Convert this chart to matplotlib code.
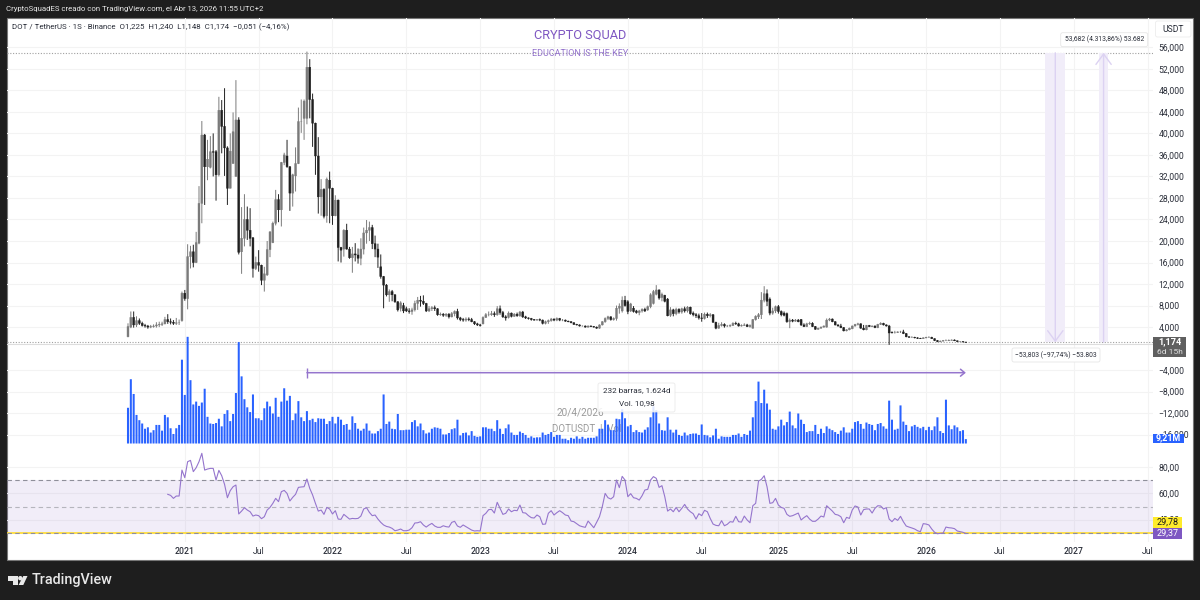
import matplotlib
matplotlib.use("Agg")
import matplotlib.dates as mdates
import matplotlib.pyplot as plt
import pandas as pd
from matplotlib.patches import Circle, FancyBboxPatch, Polygon, Rectangle

plt.rcParams["font.family"] = ["Roboto", "DejaVu Sans"]

# weekly candles, DOTUSDT
opens = [
    2.2, 4.0, 5.8, 4.4, 5.2, 4.7, 4.3, 4.2, 4.0, 4.1,
    4.2, 4.4, 4.5, 4.6, 5.4, 5.0, 4.9, 4.7, 4.8, 5.2,
    10.3, 9.3, 17.1, 18.0, 16.0, 19.6, 27.0, 39.7, 33.8, 33.7,
    36.6, 36.6, 32.3, 44.3, 41.3, 37.3, 29.8, 34.4, 32.0, 42.5,
    18.0, 20.5, 24.0, 22.0, 20.6, 14.9, 16.0, 15.5, 12.7, 13.7,
    18.4, 19.7, 23.3, 27.7, 25.8, 34.6, 35.8, 33.8, 28.9, 32.1,
    34.4, 42.2, 42.8, 42.8, 52.3, 46.3, 41.9, 35.8, 28.2, 29.6,
    24.7, 31.3, 29.8, 24.7, 27.6, 18.8, 18.5, 22.0, 18.5, 16.9,
    17.6, 17.4, 16.8, 18.5, 21.5, 22.0, 22.5, 19.5, 18.5, 15.2,
    13.4, 11.8, 10.0, 10.6, 10.0, 8.7, 7.5, 8.0, 7.4, 7.0,
    6.9, 7.2, 8.4, 9.0, 8.8, 8.4, 7.0, 7.4, 7.6, 7.4,
    6.3, 6.4, 6.2, 6.4, 5.9, 6.5, 6.9, 5.7, 5.4, 5.3,
    5.5, 5.4, 5.0, 4.6, 4.4, 4.6, 5.8, 6.3, 6.3, 6.5,
    6.3, 7.4, 6.7, 5.9, 5.8, 6.6, 6.0, 6.4, 6.1, 6.8,
    5.9, 5.7, 5.6, 5.4, 5.3, 5.4, 5.3, 4.7, 5.0, 5.2,
    5.5, 5.3, 5.6, 5.3, 5.3, 5.1, 5.0, 4.8, 4.5, 4.4,
    4.2, 4.2, 4.0, 4.2, 4.1, 4.0, 3.8, 4.4, 5.0, 5.6,
    5.9, 5.4, 5.6, 7.5, 7.0, 9.0, 8.7, 7.0, 7.5, 7.0,
    6.7, 7.0, 7.3, 7.2, 7.8, 8.4, 10.1, 10.9, 9.5, 9.9,
    9.2, 6.2, 7.2, 6.5, 7.3, 6.8, 7.4, 7.0, 7.7, 6.6,
    6.3, 6.1, 5.7, 5.6, 6.4, 6.1, 6.3, 4.9, 3.8, 4.3,
    4.5, 4.2, 4.2, 4.3, 4.7, 4.6, 4.2, 4.3, 4.4, 4.1,
    3.8, 5.4, 5.9, 6.3, 9.0, 10.2, 9.2, 6.6, 7.0, 7.8,
    6.9, 6.6, 6.5, 5.0, 5.3, 5.1, 5.3, 5.4, 4.4, 4.1,
    4.6, 4.7, 4.1, 3.6, 3.8, 4.0, 4.0, 5.3, 5.5, 5.0,
    4.4, 4.2, 3.9, 3.3, 3.5, 3.7, 4.2, 4.5, 4.6, 3.8,
    3.5, 4.3, 4.1, 4.2, 3.9, 4.5, 4.7, 4.4, 4.2, 3.0,
    3.0, 3.0, 3.1, 3.1, 2.8, 2.2, 2.1, 2.1, 2.0, 1.9,
    1.85, 2.0, 2.1, 2.1, 1.85, 1.5, 1.3, 1.4, 1.5, 1.5,
    1.55, 1.6, 1.45, 1.3, 1.3, 1.225,
]
highs = [
    4.7, 6.9, 6.9, 6.0, 5.6, 5.0, 4.6, 4.4, 4.4, 4.5,
    4.9, 5.0, 5.0, 5.9, 6.4, 5.6, 5.3, 5.7, 5.4, 10.6,
    10.9, 19.4, 19.1, 19.3, 21.7, 30.2, 42.3, 39.9, 38.8, 39.5,
    40.0, 36.9, 46.8, 46.2, 48.4, 37.6, 40.0, 43.9, 49.9, 43.0,
    26.3, 28.7, 26.4, 26.1, 20.7, 17.1, 18.3, 15.6, 15.2, 20.0,
    21.8, 23.6, 29.5, 28.7, 34.7, 36.4, 38.8, 33.9, 32.5, 37.4,
    44.8, 46.3, 46.3, 55.2, 53.8, 47.4, 42.0, 39.3, 31.5, 29.8,
    31.8, 32.9, 29.9, 28.5, 27.7, 18.9, 22.2, 23.2, 18.9, 18.9,
    19.6, 18.6, 20.5, 22.5, 23.9, 23.6, 23.0, 21.0, 19.5, 17.5,
    13.5, 12.0, 11.0, 10.9, 10.1, 8.8, 8.8, 8.5, 7.8, 7.5,
    7.6, 8.9, 9.6, 9.8, 9.9, 8.5, 7.9, 7.9, 8.0, 7.5,
    6.7, 6.6, 6.6, 6.6, 6.8, 7.1, 7.4, 5.9, 5.7, 5.8,
    5.8, 5.7, 5.1, 4.8, 4.6, 6.0, 6.6, 6.9, 7.0, 6.9,
    7.9, 8.0, 7.0, 6.2, 6.9, 6.7, 6.6, 6.7, 7.0, 7.0,
    6.1, 5.8, 5.7, 5.5, 5.5, 5.6, 5.4, 5.2, 5.4, 5.7,
    5.6, 5.8, 5.7, 5.5, 5.4, 5.2, 5.1, 4.9, 4.6, 4.5,
    4.3, 4.3, 4.3, 4.3, 4.2, 4.1, 4.5, 5.1, 5.8, 6.1,
    6.0, 5.8, 8.0, 8.4, 9.7, 9.8, 9.0, 8.5, 7.9, 7.2,
    7.2, 7.5, 7.6, 8.0, 10.3, 10.9, 11.8, 11.0, 10.4, 10.0,
    9.4, 7.7, 7.4, 7.6, 7.5, 7.6, 7.8, 7.9, 7.8, 6.9,
    6.6, 6.5, 6.6, 6.7, 6.7, 6.6, 6.4, 5.0, 4.8, 4.9,
    4.7, 4.4, 4.5, 4.9, 5.0, 4.8, 4.5, 4.7, 4.6, 4.5,
    5.5, 6.2, 6.6, 10.5, 11.6, 11.0, 9.5, 7.6, 8.0, 8.1,
    7.1, 6.9, 6.7, 5.6, 5.5, 5.5, 5.5, 5.5, 4.7, 4.8,
    5.0, 4.9, 4.2, 3.9, 4.1, 4.3, 5.6, 5.7, 5.6, 5.1,
    4.5, 4.6, 4.0, 3.6, 3.9, 4.3, 4.6, 4.8, 4.7, 4.4,
    4.4, 4.4, 4.3, 4.3, 4.6, 4.9, 4.8, 4.5, 4.4, 3.2,
    3.3, 3.2, 3.3, 3.5, 2.9, 2.3, 2.3, 2.2, 2.1, 2.0,
    2.1, 2.2, 2.3, 2.2, 1.9, 1.6, 1.5, 1.6, 1.7, 1.7,
    1.7, 1.7, 1.5, 1.4, 1.35, 1.24,
]
lows = [
    2.1, 3.8, 3.9, 4.0, 4.4, 4.1, 3.9, 3.7, 3.8, 3.9,
    3.9, 4.0, 4.2, 4.5, 4.6, 4.5, 4.4, 4.4, 4.4, 5.0,
    8.9, 7.3, 14.9, 15.1, 15.9, 19.4, 23.3, 26.7, 31.3, 33.5,
    32.0, 27.5, 32.0, 36.3, 32.1, 26.7, 29.8, 34.4, 32.0, 17.5,
    13.9, 19.0, 20.2, 19.0, 13.2, 14.6, 14.3, 11.8, 10.6, 13.5,
    17.0, 19.6, 22.9, 23.5, 22.7, 34.1, 33.6, 25.6, 26.4, 29.2,
    34.3, 40.1, 38.8, 41.7, 42.8, 37.5, 32.3, 25.1, 24.7, 24.2,
    23.4, 23.3, 23.0, 24.6, 16.2, 16.0, 17.1, 18.4, 16.7, 14.1,
    16.2, 15.8, 15.5, 17.5, 19.5, 20.0, 18.5, 17.0, 15.0, 13.0,
    7.5, 9.7, 8.7, 8.8, 8.5, 6.9, 6.9, 6.6, 6.8, 6.5,
    6.3, 6.9, 7.2, 7.8, 8.1, 6.8, 6.8, 7.0, 7.0, 6.1,
    6.1, 5.9, 5.9, 5.6, 5.8, 6.0, 5.4, 5.1, 5.0, 5.0,
    5.1, 4.9, 4.4, 4.2, 4.1, 4.5, 5.7, 6.0, 6.1, 5.9,
    6.1, 6.3, 5.7, 5.2, 5.6, 5.8, 5.9, 5.9, 5.9, 5.7,
    5.5, 5.4, 5.2, 5.2, 5.2, 5.1, 4.5, 4.5, 4.6, 5.0,
    5.1, 5.1, 5.1, 5.1, 5.0, 4.9, 4.7, 4.4, 4.3, 4.1,
    4.1, 3.9, 3.9, 4.0, 3.9, 3.7, 3.7, 4.3, 4.8, 5.3,
    5.2, 5.2, 5.2, 6.5, 6.7, 7.8, 6.4, 6.8, 6.7, 6.5,
    6.2, 6.7, 6.8, 7.0, 7.5, 8.2, 9.9, 9.1, 8.8, 8.6,
    6.0, 5.9, 6.0, 6.2, 6.5, 6.5, 6.7, 6.7, 6.3, 6.0,
    5.7, 5.4, 5.0, 5.4, 5.7, 5.8, 4.8, 3.6, 3.7, 4.1,
    3.9, 4.0, 4.0, 4.2, 4.4, 4.1, 4.1, 4.2, 4.0, 3.9,
    3.7, 5.2, 5.5, 5.5, 8.6, 7.9, 6.2, 6.3, 6.6, 6.5,
    6.0, 6.0, 4.8, 3.8, 4.9, 5.0, 4.9, 4.2, 4.0, 4.0,
    4.4, 4.0, 3.5, 3.5, 3.7, 3.9, 3.9, 5.1, 4.9, 4.3,
    4.1, 3.8, 3.2, 3.2, 3.4, 3.6, 4.1, 4.3, 3.7, 3.4,
    3.4, 4.0, 4.0, 3.8, 3.8, 4.4, 4.3, 4.1, 0.7, 2.8,
    2.8, 2.9, 2.9, 2.7, 2.1, 2.0, 2.0, 1.9, 1.8, 1.8,
    1.8, 1.9, 2.0, 1.8, 1.4, 1.2, 1.2, 1.3, 1.4, 1.4,
    1.5, 1.4, 1.2, 1.2, 1.2, 1.148,
]
closes = [
    4.1, 5.8, 4.4, 5.2, 4.7, 4.3, 4.2, 4.0, 4.1, 4.2,
    4.4, 4.5, 4.6, 5.4, 5.0, 4.9, 4.7, 4.8, 4.8, 10.3,
    9.3, 17.1, 18.0, 16.0, 19.7, 27.0, 39.7, 33.8, 35.2, 36.6,
    36.5, 32.3, 44.3, 41.3, 37.3, 29.8, 36.7, 40.3, 42.5, 17.9,
    20.5, 24.0, 22.0, 20.5, 14.9, 16.0, 15.5, 12.7, 13.9, 18.4,
    21.7, 23.3, 27.7, 25.8, 34.6, 36.0, 33.8, 28.9, 32.3, 34.4,
    42.2, 42.2, 46.0, 52.3, 46.3, 41.9, 35.8, 28.2, 29.6, 24.6,
    31.5, 29.8, 24.7, 27.6, 18.8, 18.3, 22.0, 18.5, 16.9, 17.6,
    17.4, 16.8, 18.5, 21.5, 22.0, 22.5, 19.5, 18.5, 17.0, 13.4,
    11.8, 10.0, 10.6, 10.0, 8.7, 7.2, 8.5, 7.0, 7.0, 6.9,
    7.2, 8.4, 9.0, 8.8, 8.4, 7.0, 7.4, 7.6, 7.4, 6.3,
    6.4, 6.2, 6.4, 5.9, 6.5, 6.9, 5.7, 5.4, 5.3, 5.5,
    5.4, 5.0, 4.6, 4.4, 4.3, 5.8, 6.3, 6.3, 6.5, 6.3,
    7.4, 6.7, 5.9, 5.7, 6.6, 6.0, 6.4, 6.1, 6.8, 5.9,
    5.7, 5.6, 5.4, 5.3, 5.4, 5.3, 4.7, 5.0, 5.2, 5.5,
    5.3, 5.6, 5.3, 5.3, 5.1, 5.0, 4.8, 4.5, 4.4, 4.2,
    4.2, 4.0, 4.2, 4.1, 4.0, 3.8, 4.4, 5.0, 5.6, 5.9,
    5.4, 5.6, 7.5, 7.9, 9.0, 8.0, 6.9, 8.3, 6.9, 6.7,
    7.0, 7.3, 7.0, 7.8, 10.0, 10.6, 10.9, 9.4, 10.1, 8.8,
    6.1, 7.2, 6.5, 7.3, 6.8, 7.4, 7.0, 7.7, 6.5, 6.3,
    6.1, 5.7, 5.6, 6.4, 6.1, 6.3, 4.9, 3.8, 4.3, 4.5,
    4.2, 4.2, 4.3, 4.7, 4.6, 4.2, 4.3, 4.4, 4.1, 4.3,
    5.4, 6.0, 6.3, 9.0, 10.2, 8.8, 6.6, 7.0, 7.8, 6.9,
    6.3, 6.2, 5.0, 5.3, 5.1, 5.3, 5.0, 4.4, 4.1, 4.6,
    4.7, 4.1, 3.6, 3.8, 4.0, 4.2, 5.3, 5.5, 5.0, 4.4,
    4.2, 3.9, 3.3, 3.5, 3.8, 4.2, 4.5, 4.6, 3.8, 3.5,
    4.3, 4.1, 4.2, 3.9, 4.5, 4.7, 4.4, 4.2, 2.9, 2.95,
    3.0, 3.1, 3.1, 2.8, 2.2, 2.1, 2.1, 2.0, 1.9, 1.85,
    2.0, 2.1, 2.1, 1.85, 1.5, 1.3, 1.4, 1.5, 1.5, 1.55,
    1.6, 1.45, 1.3, 1.3, 1.22, 1.174,
]

# volume in millions
volumes = [
    75, 135, 104, 60, 49, 42, 31, 34, 23, 28,
    39, 39, 27, 60, 55, 32, 20, 32, 39, 176,
    102, 224, 133, 82, 88, 79, 86, 115, 56, 42,
    41, 43, 52, 36, 62, 70, 47, 62, 106, 213,
    141, 93, 76, 66, 103, 53, 53, 49, 74, 88,
    78, 63, 96, 56, 88, 116, 90, 100, 49, 63,
    89, 55, 47, 68, 49, 52, 45, 53, 52, 52,
    41, 47, 56, 42, 56, 50, 39, 41, 29, 57,
    43, 31, 27, 31, 42, 27, 21, 21, 26, 31,
    103, 41, 46, 31, 30, 62, 28, 28, 29, 29,
    45, 49, 36, 42, 28, 21, 23, 31, 34, 33,
    31, 19, 19, 22, 30, 32, 50, 17, 22, 23,
    17, 26, 16, 14, 15, 34, 34, 31, 31, 26,
    49, 31, 20, 32, 40, 23, 18, 18, 25, 22,
    18, 12, 15, 12, 13, 13, 23, 18, 20, 24,
    14, 18, 18, 10, 10, 7, 12, 10, 15, 10,
    14, 10, 12, 12, 12, 15, 31, 31, 49, 39,
    28, 28, 52, 51, 72, 53, 36, 39, 24, 28,
    24, 23, 29, 34, 55, 78, 70, 42, 28, 27,
    55, 29, 23, 29, 18, 16, 23, 17, 20, 21,
    21, 18, 40, 18, 17, 13, 17, 31, 10, 15,
    14, 14, 14, 18, 18, 21, 14, 20, 18, 27,
    55, 89, 130, 85, 113, 84, 71, 31, 29, 36,
    50, 38, 45, 67, 38, 32, 63, 50, 41, 24,
    26, 26, 39, 20, 31, 22, 36, 31, 28, 24,
    20, 27, 34, 23, 23, 31, 45, 47, 41, 31,
    44, 41, 39, 28, 41, 43, 36, 31, 90, 50,
    29, 31, 80, 46, 39, 26, 36, 39, 35, 32,
    35, 28, 35, 28, 36, 55, 26, 22, 92, 38,
    30, 38, 34, 26, 28, 9.21,
]

# RSI starts at bar 14
rsi_values = [
    59.3, 58.5, 56.2, 58.0, 58.0, 77.8, 72.0, 84.2, 85.2, 76.6,
    79.6, 84.2, 90.6, 77.8, 78.6, 79.1, 79.1, 70.2, 77.6, 73.5,
    66.9, 56.7, 62.1, 65.1, 66.4, 44.3, 46.5, 49.1, 47.3, 46.0,
    42.7, 43.5, 43.0, 40.7, 42.2, 47.3, 49.3, 52.4, 56.2, 53.7,
    61.3, 62.3, 60.0, 54.2, 57.0, 59.3, 64.6, 64.9, 65.1, 71.0,
    63.8, 58.8, 52.4, 46.5, 47.3, 44.0, 49.3, 48.1, 44.3, 46.8,
    40.4, 40.2, 44.0, 42.2, 40.4, 40.9, 40.7, 40.9, 42.7, 48.1,
    49.1, 45.5, 43.0, 43.5, 40.4, 37.9, 35.9, 34.8, 34.3, 33.3,
    31.5, 32.0, 32.8, 31.5, 31.5, 32.0, 33.8, 37.4, 37.6, 38.4,
    35.9, 34.3, 35.9, 37.1, 35.1, 34.1, 34.1, 35.3, 34.6, 34.3,
    37.9, 38.7, 35.1, 34.1, 35.9, 34.6, 33.3, 32.0, 31.3, 31.5,
    31.3, 43.0, 44.8, 47.6, 47.8, 45.0, 53.2, 48.6, 44.0, 44.8,
    48.1, 46.0, 47.1, 46.8, 51.1, 45.3, 45.0, 43.0, 41.5, 41.2,
    43.5, 42.2, 36.4, 36.6, 44.8, 46.8, 43.5, 45.3, 46.8, 45.3,
    43.5, 43.0, 38.9, 38.4, 36.9, 35.3, 34.6, 34.1, 38.9, 36.4,
    33.8, 37.9, 42.2, 49.9, 60.0, 56.7, 55.7, 57.5, 70.2, 64.4,
    73.0, 70.2, 57.5, 59.8, 56.7, 56.2, 54.9, 58.2, 62.6, 63.1,
    70.2, 72.8, 71.5, 64.6, 65.9, 57.5, 46.5, 48.1, 46.0, 49.3,
    46.0, 48.6, 51.6, 48.1, 46.0, 44.5, 40.4, 44.5, 43.0, 47.1,
    46.0, 40.9, 36.6, 35.6, 35.3, 39.2, 35.3, 36.4, 38.4, 38.1,
    42.5, 38.4, 38.1, 42.7, 39.7, 37.6, 50.6, 52.4, 69.4, 70.7,
    73.5, 65.1, 52.4, 52.9, 56.2, 51.1, 49.3, 48.6, 44.0, 42.5,
    43.0, 44.0, 45.0, 39.7, 41.5, 43.0, 40.4, 38.7, 38.7, 40.4,
    42.7, 42.0, 50.6, 48.6, 46.5, 44.0, 43.5, 42.2, 37.6, 41.7,
    40.9, 47.3, 50.4, 49.6, 43.5, 47.6, 48.1, 48.1, 45.0, 48.6,
    50.6, 50.4, 48.1, 49.1, 40.4, 38.4, 40.9, 39.4, 42.5, 38.4,
    35.1, 34.3, 33.6, 32.8, 31.5, 30.8, 36.9, 36.6, 35.9, 32.8,
    30.3, 29.2, 29.5, 29.7, 34.3, 33.8, 33.6, 33.1, 31.3, 30.8,
    30.3, 29.37,
]

time_ticks = ["2021-01-04", "2021-07-05", "2022-01-03", "2022-07-04", "2023-01-02",
              "2023-07-03", "2024-01-01", "2024-07-01", "2025-01-06", "2025-07-07",
              "2026-01-05", "2026-07-06", "2027-01-04", "2027-07-05"]
time_labels = ["2021", "Jul", "2022", "Jul", "2023", "Jul", "2024", "Jul", "2025", "Jul",
               "2026", "Jul", "2027", "Jul"]
price_ticks = [56, 52, 48, 44, 40, 36, 32, 28, 24, 20, 16, 12, 8, 4, -4, -8, -12, -16]
rsi_ticks = [80, 60, 40]
range_high = 54.98
last_close = 1.174

W, H = 1200, 600
DARK = "#1e1e1e"
PURPLE = "#7e57c2"
LINE = "#9575cd"
BLUE = "#2962ff"
GRID = "#f3f3f3"
TXT = "#2a2e39"


def px_axes(left, top, right, bottom, **kw):
    return fig.add_axes([left / W, 1 - bottom / H, (right - left) / W, (bottom - top) / H], **kw)


def fmt(v, dec=3):
    return f"{v:.{dec}f}".replace(".", ",").replace("-", "\u2212")


dates = pd.date_range("2020-08-17", periods=len(closes), freq="W-MON")
x = mdates.date2num(dates)
tick_x = mdates.date2num(pd.to_datetime(time_ticks))
x_left = x[0] - 42.6 * 7
x_right = x[0] + 360.9 * 7

fig = plt.figure(figsize=(W / 100, H / 100), dpi=100, facecolor=DARK)

# page layer in pixel coordinates
page = fig.add_axes([0, 0, 1, 1], zorder=0)
page.set_xlim(0, W)
page.set_ylim(H, 0)
page.axis("off")
page.add_patch(Rectangle((6.7, 17.5), 1186.3, 542.8, fc="white", ec="#777777", lw=0.8))

# price pane
ax = px_axes(7, 18, 1153, 443.5, zorder=1)
ax.patch.set_visible(False)
ax.set_xlim(x_left, x_right)
ax.set_ylim((348.6 - 443.5) / 5.38, (348.6 - 18) / 5.38)
ax.set_yticks(price_ticks, [fmt(p) for p in price_ticks])
ax.yaxis.tick_right()
ax.tick_params(axis="y", length=0, pad=4, labelsize=6.2, labelcolor=TXT)
ax.set_xticks(tick_x)
ax.tick_params(axis="x", length=0, labelbottom=False)
ax.grid(color=GRID, lw=0.8)
ax.set_axisbelow(True)
for s in ax.spines.values():
    s.set_visible(False)

colors = ["#7a7a7a" if c >= o else "#1f1f1f" for o, c in zip(opens, closes)]
wicks = ax.vlines(x, lows, highs, colors=colors, lw=0.7, zorder=3)
wicks.set_snap(False)
bodies = ax.bar(x, [c - o for o, c in zip(opens, closes)], bottom=opens, width=4.8,
                color=colors, edgecolor=colors, lw=0.3, zorder=4)
for p in bodies:
    p.set_snap(False)

ax.axhline(range_high, color="#a0a0a0", lw=0.8, ls=(0, (1, 1.5)), zorder=2)
ax.axhline(last_close - 0.35, color="#dddddd", lw=0.8, zorder=2)
ax.axhline(last_close, color="#a0a0a0", lw=0.8, ls=(0, (1, 1.5)), zorder=2)

# price range tools
band_down = mdates.date2num(pd.to_datetime(["2026-10-26", "2026-12-14"]))
band_up = mdates.date2num(pd.to_datetime(["2027-03-08", "2027-03-29"]))
for band in (band_down, band_up):
    ax.fill_between(band, last_close, range_high, fc="#f1edf9", ec="none", zorder=2.5)
mid_down = band_down.mean()
mid_up = band_up.mean()
ax.annotate("", (mid_down, last_close), (mid_down, range_high), zorder=3,
            arrowprops=dict(arrowstyle="->,head_length=0.75,head_width=0.55", color="#dcd2f2", lw=1, shrinkA=0, shrinkB=0))
ax.annotate("", (mid_up, range_high), (mid_up, last_close), zorder=3,
            arrowprops=dict(arrowstyle="->,head_length=0.75,head_width=0.55", color="#dcd2f2", lw=1, shrinkA=0, shrinkB=0))

# date range tool
range_y = -4.48
ax.annotate("", (x[295], range_y), (x[63], range_y), zorder=5,
            arrowprops=dict(arrowstyle="->,head_length=0.3,head_width=0.25", color=LINE, lw=1.1, shrinkA=0, shrinkB=0))
ax.plot([x[63]], [range_y], marker="|", ms=7, mew=1, color=LINE, zorder=5)

# watermark under the bars
ax.text(x[151], -11.9, "20/4/2026", ha="left", va="center", fontsize=7.2, color="#9a9a9a", zorder=1)
ax.text(x[149] + 2, -14.9, "DOTUSDT  |  Vol", ha="left", va="center", fontsize=7.0, color="#9a9a9a", zorder=1)

# volume
vol = px_axes(7, 18, 1153, 443.5, zorder=2)
vol.patch.set_visible(False)
vol.set_xlim(x_left, x_right)
vol.set_ylim(0, (443.5 - 18) * 2.1)
vol.axis("off")
vol_bars = vol.bar(x, volumes, width=5.0, color=BLUE, lw=0)
for p in vol_bars:
    p.set_snap(False)

# RSI pane
rsi_ax = px_axes(7, 444, 1153, 542, zorder=1)
rsi_ax.patch.set_visible(False)
rsi_ax.set_xlim(x_left, x_right)
rsi_ax.set_ylim(30 - (542 - 532.7) / 1.31, 30 + (532.7 - 444) / 1.31)
rsi_ax.set_yticks(rsi_ticks, [fmt(v, 2) for v in rsi_ticks])
rsi_ax.yaxis.tick_right()
rsi_ax.tick_params(axis="y", length=0, pad=4, labelsize=6.2, labelcolor=TXT)
rsi_ax.set_xticks(tick_x, time_labels)
rsi_ax.tick_params(axis="x", length=0, pad=3.4, labelsize=6.2, labelcolor=TXT)
for lab in rsi_ax.get_xticklabels():
    if lab.get_text() != "Jul":
        lab.set_fontweight("medium")
rsi_ax.grid(color=GRID, lw=0.8)
rsi_ax.set_axisbelow(True)
for s in rsi_ax.spines.values():
    s.set_visible(False)
rsi_ax.axhspan(30, 70, fc=PURPLE, alpha=0.1, lw=0)
rsi_ax.axhline(29.78, color="#ffdc2e", lw=1.2)
for level, col in ((70, "#8f8f9a"), (50, "#b5b5bd"), (30, "#8f8f9a")):
    rsi_ax.axhline(level, color=col, lw=0.8, ls=(0, (4, 3)))
rsi_ax.plot(x[14:], rsi_values, color=LINE, lw=0.8)

# overlay: labels and boxes
top = fig.add_axes([0, 0, 1, 1], zorder=5)
top.set_xlim(0, W)
top.set_ylim(H, 0)
top.axis("off")
top.patch.set_visible(False)


def label_box(x0, y0, x1, y1, fc, ec="none", lw=0):
    top.add_patch(Rectangle((x0, y0), x1 - x0, y1 - y0, fc=fc, ec=ec, lw=lw))


def note_box(x0, y0, x1, y1, alpha=1.0):
    top.add_patch(FancyBboxPatch((x0 + 2, y0 + 2), x1 - x0 - 4, y1 - y0 - 4, boxstyle="round,pad=2,rounding_size=2",
                                 fc="white", ec="#e6e6e6", lw=0.6, alpha=alpha))


top.text(6.5, 9, "CryptoSquadES creado con TradingView.com, el Abr 13, 2026 11:55 UTC+2",
         color="#e8e8e8", fontsize=5.6, va="center")
top.text(12, 27.5, "DOT / TetherUS \u00b7 1S \u00b7 Binance  O1,225  H1,240  L1,148  C1,174  \u22120,051 (\u22124,16%)",
         color=TXT, fontsize=5.7, va="center")
top.text(580, 35.5, "CRYPTO SQUAD", color=PURPLE, fontsize=9.2, ha="center", va="center")
top.text(580, 53.5, "EDUCATION IS THE KEY", color=LINE, fontsize=6.5, ha="center", va="center")

note_box(1060.7, 32.7, 1147.7, 46.7)
top.text(1104.2, 39.7, "53,682 (4.313,86%) 53.682", color=TXT, fontsize=4.9, ha="center", va="center")
note_box(1012, 348, 1100, 362)
top.text(1056, 355, "\u221253,803 (\u221297,74%) \u221253.803", color=TXT, fontsize=4.9, ha="center", va="center")
note_box(598, 383, 675, 412, alpha=0.85)
top.text(637, 390.5, "232 barras, 1.624d", color=TXT, fontsize=5.9, ha="center", va="center")
top.text(637, 403.5, "Vol. 10,98", color=TXT, fontsize=5.9, ha="center", va="center")

top.add_patch(FancyBboxPatch((1157, 22.5), 32.5, 13, boxstyle="round,pad=1.5,rounding_size=2",
                             fc="white", ec="#ececec", lw=0.6))
top.text(1173, 29, "USDT", color=TXT, fontsize=6.2, ha="center", va="center")

label_box(1153, 336.7, 1185.7, 356.7, "#5f5f5f")
top.text(1169.5, 342, fmt(last_close), color="white", fontsize=6.6, fontweight="bold", ha="center", va="center")
top.text(1169.5, 351.5, "6d 15h", color="#dddddd", fontsize=6.1, ha="center", va="center")
label_box(1153, 434, 1184, 442.8, BLUE)
top.text(1168.5, 438.2, "9,21M", color="white", fontsize=6.4, fontweight="bold", ha="center", va="center")
label_box(1153, 516.7, 1181.7, 527.7, "#ffeb2b")
top.text(1167.5, 522.2, "29,78", color="#1a1a1a", fontsize=6.5, ha="center", va="center")
label_box(1153, 527.7, 1181.7, 539.4, PURPLE)
top.text(1167.5, 533.6, "29,37", color="white", fontsize=6.5, ha="center", va="center")

# footer logo
top.add_patch(Polygon([(8, 576), (17.5, 576), (17.5, 585), (13, 585), (13, 580.5), (8, 580.5)], fc="#e8e8e8", lw=0))
top.add_patch(Circle((20.3, 578.2), 2.2, fc="#e8e8e8", lw=0))
top.add_patch(Polygon([(23.3, 576), (27.5, 576), (23.3, 585), (18.6, 585)], fc="#e8e8e8", lw=0))
top.text(32, 580, "TradingView", color="#e8e8e8", fontsize=10.4, fontweight="medium", va="center")

fig.savefig("out.png", dpi=100, facecolor=DARK)
